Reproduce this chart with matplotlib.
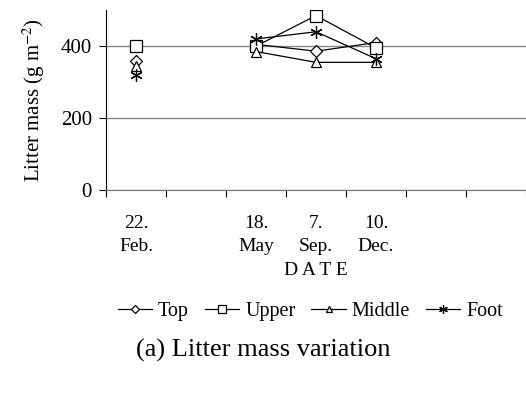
import matplotlib.pyplot as plt

plt.rcParams['font.family'] = ['Liberation Serif', 'DejaVu Serif']
plt.rcParams['mathtext.fontset'] = 'stix'

# categorical positions on the date axis
date_pos = [0.5, 2.5, 3.5, 4.5]
date_labels = ['22.\nFeb.', '18.\nMay', '7.\nSep.', '10.\nDec.']

top = [360, 405, 386, 410]
upper = [400, 400, 485, 395]
middle = [345, 385, 355, 355]
foot = [320, 420, 440, 365]

fig = plt.figure(figsize=(5.26, 4.07), dpi=100)
ax = fig.add_axes([0.2015, 0.533, 0.7985, 0.442])

# Feb. point stands alone, the others are joined
def draw(vals, marker, label, ms):
    ax.plot(date_pos[:1], vals[:1], marker=marker, ls='none', color='black',
            mfc='white', mec='black', ms=ms, mew=0.9)
    ax.plot(date_pos[1:], vals[1:], marker=marker, ls='-', lw=0.9, color='black',
            mfc='white', mec='black', ms=ms, mew=0.9, label=label)

draw(top, 'D', 'Top', 6)
draw(upper, 's', 'Upper', 8)
draw(middle, '^', 'Middle', 7)
draw(foot, (6, 2, 0), 'Foot', 9)

ax.set_xlim(0, 7)
ax.set_ylim(0, 500)
ax.set_yticks([0, 200, 400])
ax.set_xticks(range(0, 8))
ax.set_xticklabels([])
ax.set_xticks(date_pos, minor=True)
ax.set_xticklabels(date_labels, minor=True, fontsize=14, linespacing=1.45)
ax.tick_params(axis='x', which='minor', length=0, pad=18)
ax.tick_params(axis='x', which='major', length=5, direction='out', width=0.8)
ax.tick_params(axis='y', labelsize=15, length=5, width=0.8, pad=5)

ax.grid(axis='y', color='#888888', lw=1.0)
ax.set_axisbelow(True)
for s in ['top', 'right']:
    ax.spines[s].set_visible(False)
ax.spines['bottom'].set_color('#777777')

ax.set_ylabel('Litter mass (g m$^{-2}$)', fontsize=15, labelpad=10)
ax.set_xlabel('D A T E', fontsize=14, labelpad=5)

fig.legend(loc='center', bbox_to_anchor=(0.59, 0.235), ncol=4, frameon=False,
           fontsize=14.5, handlelength=1.7, handletextpad=0.3, columnspacing=0.8,
           markerscale=0.7)

fig.text(0.5, 0.14, '(a) Litter mass variation', ha='center', va='center', fontsize=19)

fig.savefig('out.png', dpi=100)
